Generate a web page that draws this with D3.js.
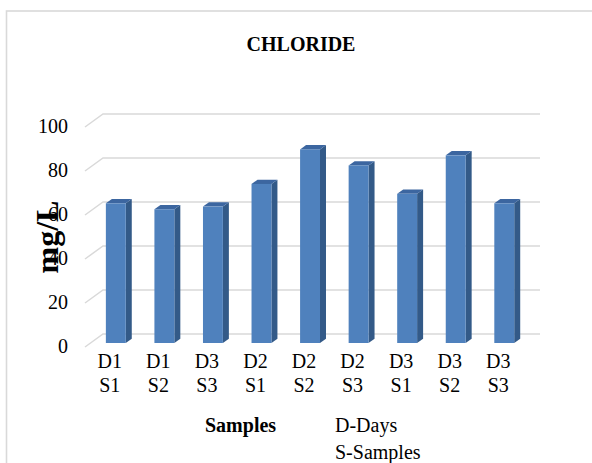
<!DOCTYPE html>
<html><head><meta charset="utf-8">
<script src="https://cdn.jsdelivr.net/npm/d3@7"></script>
<style>html,body{margin:0;padding:0;background:#fff}svg{display:block}text{font-family:"Liberation Serif","Times New Roman",serif;fill:#000}</style>
</head><body><div id="chart"></div>
<script>
const days = ["D1","D1","D3","D2","D2","D2","D3","D3","D3"];
const samples = ["S1","S2","S3","S1","S2","S3","S1","S2","S3"];
const values = [63.5, 60.8, 62, 72.3, 88, 80.7, 67.8, 85.3, 63.5];
const yTicks = [0,20,40,60,80,100];
const title = "CHLORIDE";
const yTitle = "mg/L";
const xTitle = "Samples";
const notes = ["D-Days","S-Samples"];

const W=592,H=463;
const svg=d3.select("#chart").append("svg").attr("width",W).attr("height",H);
svg.append("rect").attr("x",6.5).attr("y",11).attr("width",620).attr("height",500)
  .attr("fill","none").attr("stroke","#d9d9d9").attr("stroke-width",1.6);

const idx=d3.range(values.length);
const x=d3.scaleBand().domain(idx).range([103,540]).padding(0);
const y=d3.scaleLinear().domain([0,100]).range([334,114]);
const DX=-18, DY=13;           // full floor depth (back wall -> front)
const bf=9/13;                 // bar front depth fraction
const bw=x.bandwidth()*0.41;
const dep=[6,-4.3];            // bar depth offset

// gridlines (back wall + diagonal on side wall)
const g=svg.append("g");
yTicks.forEach(t=>{
  g.append("path").attr("d",`M${103+DX},${y(t)+DY}L103,${y(t)}L540,${y(t)}`)
   .attr("fill","none").attr("stroke","#d9d9d9").attr("stroke-width",1.5);
  svg.append("text").attr("x",68).attr("y",y(t)+DY+6).attr("text-anchor","end")
   .attr("font-size",20).text(t);
});

// bars
const bars=svg.append("g");
idx.forEach(i=>{
  const cx=x(i)+x.bandwidth()/2+DX*bf;
  const x0=cx-bw/2+1, x1=x0+bw;
  const yb=y(0)+DY*bf, yt=y(values[i])+DY*bf;
  bars.append("path").attr("d",`M${x1},${yb}L${x1+dep[0]},${yb+dep[1]}L${x1+dep[0]},${yt+dep[1]}L${x1},${yt}Z`).attr("fill","#335a88");
  bars.append("path").attr("d",`M${x0},${yt}L${x1},${yt}L${x1+dep[0]},${yt+dep[1]}L${x0+dep[0]},${yt+dep[1]}Z`).attr("fill","#3c66a0");
  bars.append("rect").attr("x",x0).attr("y",yt).attr("width",bw).attr("height",yb-yt).attr("fill","#4f81bd");
});

// x labels
idx.forEach(i=>{
  const cx=x(i)+x.bandwidth()/2+DX+0.5;
  const t=svg.append("text").attr("x",cx).attr("text-anchor","middle").attr("font-size",20);
  t.append("tspan").attr("x",cx).attr("y",368).text(days[i]);
  t.append("tspan").attr("x",cx).attr("y",392).text(samples[i]);
});

svg.append("text").attr("x",301).attr("y",51).attr("text-anchor","middle")
  .attr("font-size",20).attr("font-weight","bold").text(title);
svg.append("text").attr("transform","translate(47,237) rotate(-90)").attr("text-anchor","middle")
  .attr("dominant-baseline","central").attr("font-size",32).attr("font-weight","bold").text(yTitle);
svg.append("text").attr("x",205).attr("y",432).attr("font-size",20).attr("font-weight","bold").text(xTitle);
notes.forEach((n,k)=>svg.append("text").attr("x",335).attr("y",432+k*27).attr("font-size",20).text(n));
</script></body></html>
